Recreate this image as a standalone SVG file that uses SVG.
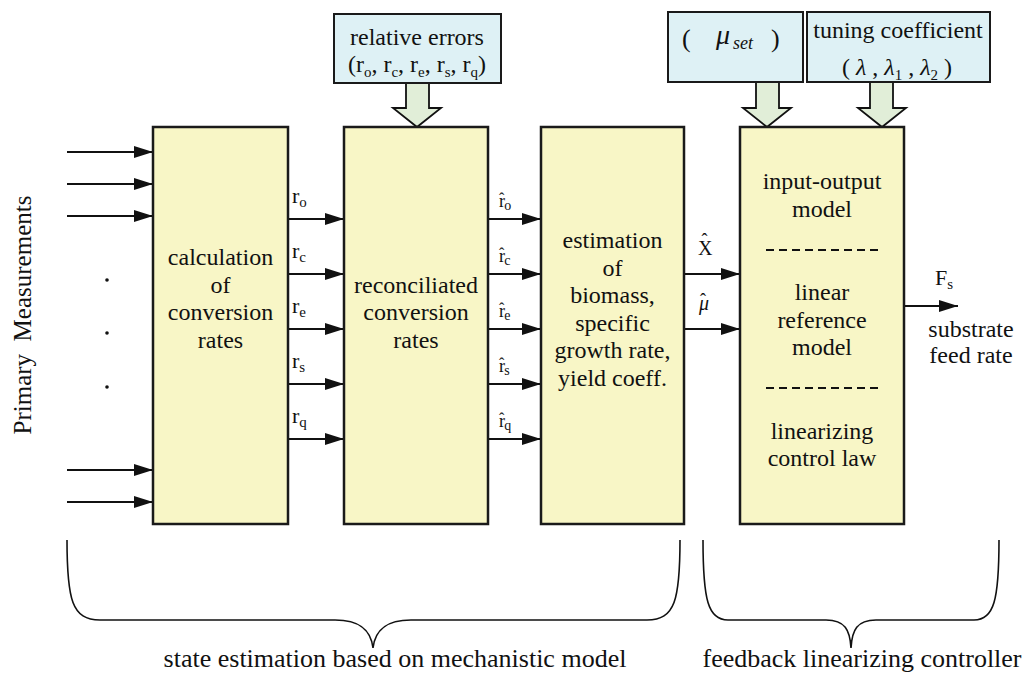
<svg xmlns="http://www.w3.org/2000/svg" width="1027" height="677" viewBox="0 0 1027 677" font-family="'Liberation Serif', 'Times New Roman', serif">
<style>
text,tspan{font-family:"Liberation Serif","Times New Roman",serif !important;fill:#111}
.bt{font-size:24px;text-anchor:middle}
.lbl{font-size:22px}
.sub{font-size:15px}
.box{fill:#F8F6C6;stroke:#1a1a1a;stroke-width:2.5}
.tbox{fill:#DEF1F5;stroke:#1a1a1a;stroke-width:2}
.barrow{fill:#E1EED8;stroke:#111;stroke-width:1.8}
.ln{stroke:#111;stroke-width:2;fill:none}
.dash{stroke:#111;stroke-width:2;stroke-dasharray:8 5}
.brace{stroke:#111;stroke-width:1.6;fill:none}
.rh{font-size:18px}
.rhs{font-size:14px}
.hat{font-size:16px}
</style>
<defs>
<marker id="ah" markerUnits="userSpaceOnUse" markerWidth="19" markerHeight="12" viewBox="0 0 19 12" refX="19" refY="6" orient="auto">
<path d="M0,0 L19,6 L0,12 z" fill="#111"/>
</marker>
</defs>

<g id="connectors">
<line class="ln" x1="67" y1="152" x2="153" y2="152" marker-end="url(#ah)"/>
<line class="ln" x1="67" y1="184" x2="153" y2="184" marker-end="url(#ah)"/>
<line class="ln" x1="67" y1="216" x2="153" y2="216" marker-end="url(#ah)"/>
<line class="ln" x1="67" y1="470" x2="153" y2="470" marker-end="url(#ah)"/>
<line class="ln" x1="67" y1="502" x2="153" y2="502" marker-end="url(#ah)"/>
<line class="ln" x1="288" y1="219" x2="344" y2="219" marker-end="url(#ah)"/>
<line class="ln" x1="288" y1="274" x2="344" y2="274" marker-end="url(#ah)"/>
<line class="ln" x1="288" y1="329" x2="344" y2="329" marker-end="url(#ah)"/>
<line class="ln" x1="288" y1="384" x2="344" y2="384" marker-end="url(#ah)"/>
<line class="ln" x1="288" y1="439" x2="344" y2="439" marker-end="url(#ah)"/>
<line class="ln" x1="488" y1="219" x2="541" y2="219" marker-end="url(#ah)"/>
<line class="ln" x1="488" y1="274" x2="541" y2="274" marker-end="url(#ah)"/>
<line class="ln" x1="488" y1="329" x2="541" y2="329" marker-end="url(#ah)"/>
<line class="ln" x1="488" y1="384" x2="541" y2="384" marker-end="url(#ah)"/>
<line class="ln" x1="488" y1="439" x2="541" y2="439" marker-end="url(#ah)"/>
<line class="ln" x1="684" y1="274" x2="740" y2="274" marker-end="url(#ah)"/>
<line class="ln" x1="684" y1="329" x2="740" y2="329" marker-end="url(#ah)"/>
<line class="ln" x1="904" y1="306" x2="958" y2="306" marker-end="url(#ah)"/>
<polygon class="barrow" points="406,83 429,83 429,108 441,108 417,127 393,108 406,108"/>
<polygon class="barrow" points="756,82 779,82 779,108 791,108 767,127 743,108 756,108"/>
<polygon class="barrow" points="870,82 893,82 893,108 906,108 882,127 858,108 870,108"/>
</g>

<g id="labels">
<text class="lbl" x="292" y="203">r<tspan class="sub" dy="4">o</tspan></text>
<text class="lbl" x="292" y="258">r<tspan class="sub" dy="4">c</tspan></text>
<text class="lbl" x="292" y="313">r<tspan class="sub" dy="4">e</tspan></text>
<text class="lbl" x="292" y="368">r<tspan class="sub" dy="4">s</tspan></text>
<text class="lbl" x="292" y="423">r<tspan class="sub" dy="4">q</tspan></text>

<text class="rh" x="499" y="207">r<tspan class="hat" dx="-6" dy="-3">ˆ</tspan><tspan class="rhs" dx="0" dy="6">o</tspan></text>
<text class="rh" x="499" y="262">r<tspan class="hat" dx="-6" dy="-3">ˆ</tspan><tspan class="rhs" dx="0" dy="6">c</tspan></text>
<text class="rh" x="499" y="317">r<tspan class="hat" dx="-6" dy="-3">ˆ</tspan><tspan class="rhs" dx="0" dy="6">e</tspan></text>
<text class="rh" x="499" y="372">r<tspan class="hat" dx="-6" dy="-3">ˆ</tspan><tspan class="rhs" dx="0" dy="6">s</tspan></text>
<text class="rh" x="499" y="427">r<tspan class="hat" dx="-6" dy="-3">ˆ</tspan><tspan class="rhs" dx="0" dy="6">q</tspan></text>

<text x="698" y="255" style="font-size:20px">X<tspan style="font-size:18px" dx="-11" dy="-9">ˆ</tspan></text>
<text x="699" y="310" style="font-size:20px"><tspan font-style="italic">μ</tspan><tspan style="font-size:18px" dx="-9" dy="-4">ˆ</tspan></text>

<text class="lbl" x="935" y="285">F<tspan class="sub" dy="4">s</tspan></text>
<text class="bt" x="971" y="337">substrate</text>
<text class="bt" x="971" y="363">feed rate</text>

<text transform="translate(31,315) rotate(-90)" style="font-size:25px;text-anchor:middle">Primary&#160; Measurements</text>
<circle cx="107" cy="280" r="1.8" fill="#111"/>
<circle cx="107" cy="333" r="1.8" fill="#111"/>
<circle cx="107" cy="387" r="1.8" fill="#111"/>
</g>

<g id="node-calc">
<rect class="box" x="153" y="127" width="135" height="397"/>
<text class="bt" x="220.5" y="265">calculation</text>
<text class="bt" x="220.5" y="293">of</text>
<text class="bt" x="220.5" y="320">conversion</text>
<text class="bt" x="220.5" y="348">rates</text>
</g>

<g id="node-reconc">
<rect class="box" x="344" y="127" width="144" height="397"/>
<text class="bt" x="416" y="293">reconciliated</text>
<text class="bt" x="416" y="320">conversion</text>
<text class="bt" x="416" y="348">rates</text>
</g>

<g id="node-estim">
<rect class="box" x="541" y="127" width="143" height="397"/>
<text class="bt" x="612.5" y="248">estimation</text>
<text class="bt" x="612.5" y="276">of</text>
<text class="bt" x="612.5" y="303">biomass,</text>
<text class="bt" x="612.5" y="331">specific</text>
<text class="bt" x="612.5" y="358">growth rate,</text>
<text class="bt" x="612.5" y="386">yield coeff.</text>
</g>

<g id="node-controller">
<rect class="box" x="740" y="127" width="164" height="397"/>
<text class="bt" x="822" y="189">input-output</text>
<text class="bt" x="822" y="217">model</text>
<line class="dash" x1="766" y1="250" x2="880" y2="250"/>
<text class="bt" x="822" y="300">linear</text>
<text class="bt" x="822" y="328">reference</text>
<text class="bt" x="822" y="355">model</text>
<line class="dash" x1="766" y1="388" x2="880" y2="388"/>
<text class="bt" x="822" y="439">linearizing</text>
<text class="bt" x="822" y="466">control law</text>
</g>

<g id="node-errors">
<rect class="tbox" x="334" y="14" width="167" height="69"/>
<text class="bt" x="417" y="45">relative errors</text>
<text class="bt" x="417" y="72">(r<tspan class="sub" dy="5">o</tspan><tspan dy="-5">, r</tspan><tspan class="sub" dy="5">c</tspan><tspan dy="-5">, r</tspan><tspan class="sub" dy="5">e</tspan><tspan dy="-5">, r</tspan><tspan class="sub" dy="5">s</tspan><tspan dy="-5">, r</tspan><tspan class="sub" dy="5">q</tspan><tspan dy="-5">)</tspan></text>
</g>

<g id="node-muset">
<rect class="tbox" x="668" y="12" width="135" height="70"/>
<text x="682" y="47" style="font-size:26px">(</text>
<text x="716" y="44" style="font-size:28px;font-style:italic">μ</text>
<text x="733" y="49" style="font-size:18px;font-style:italic">set</text>
<text x="771" y="47" style="font-size:26px">)</text>
</g>

<g id="node-tuning">
<rect class="tbox" x="807" y="12" width="183" height="70"/>
<text class="bt" x="898" y="38">tuning coefficient</text>
<text class="bt" x="897" y="75">( <tspan font-style="italic">λ</tspan> , <tspan font-style="italic">λ</tspan><tspan class="sub" dy="5">1</tspan><tspan dy="-5"> , </tspan><tspan font-style="italic">λ</tspan><tspan class="sub" dy="5">2</tspan><tspan dy="-5"> )</tspan></text>
</g>

<g id="braces">
<path class="brace" d="M67,540 C67,600 72,620 100,620 L335,620 C360,620 371,630 373,648 C375,630 386,620 411,620 L647,620 C675,620 680,600 680,540"/>
<path class="brace" d="M703,540 C703,600 708,620 728,620 L826,620 C845,620 850,630 851,648 C852,630 857,620 876,620 L974,620 C994,620 999,600 999,540"/>
<text x="395" y="667" style="font-size:26px;text-anchor:middle">state estimation based on mechanistic model</text>
<text x="862" y="667" style="font-size:26px;text-anchor:middle">feedback linearizing controller</text>
</g>
</svg>
